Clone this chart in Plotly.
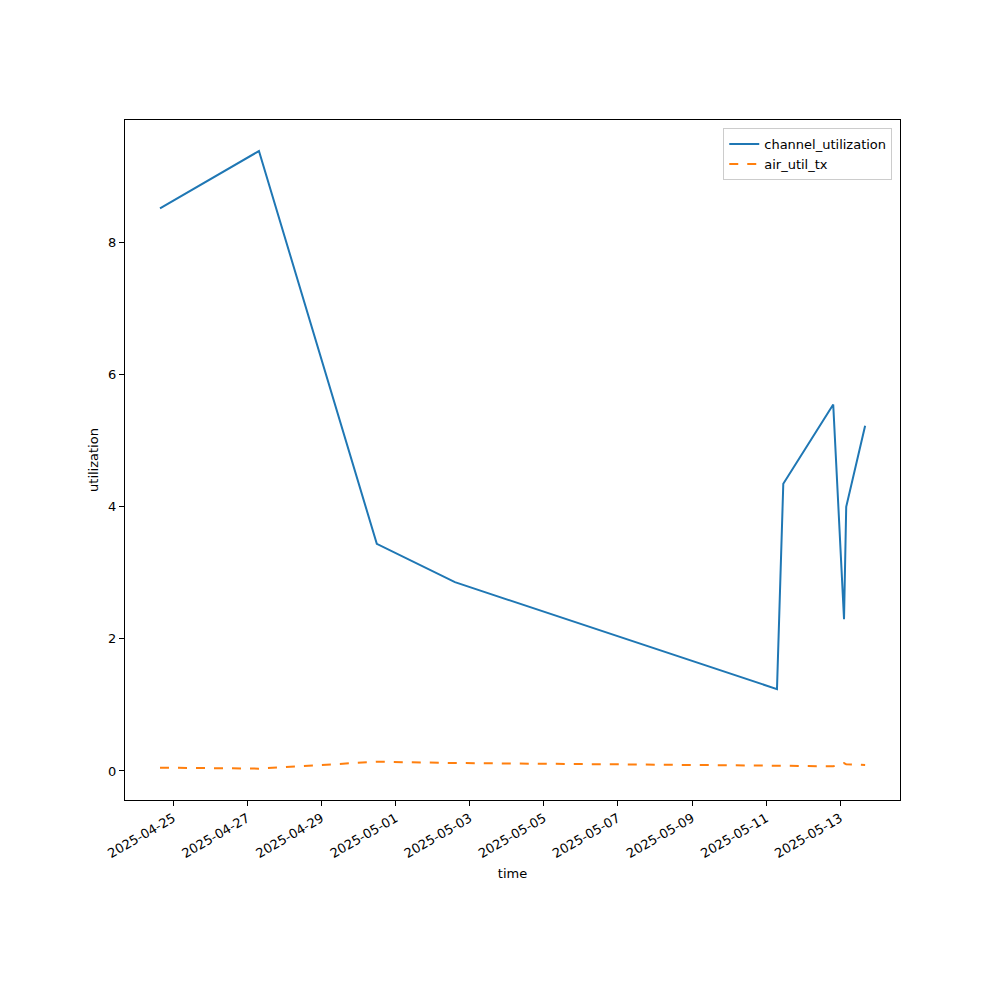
import plotly.graph_objects as go

times = ["2025-04-24 15:25", "2025-04-27 07:30", "2025-04-30 11:50", "2025-05-02 14:25",
         "2025-05-11 07:00", "2025-05-11 11:05", "2025-05-12 19:25", "2025-05-13 02:25",
         "2025-05-13 03:50", "2025-05-13 16:05"]
channel_utilization = [8.52, 9.39, 3.44, 2.86, 1.24, 4.35, 5.55, 2.30, 4.00, 5.23]
air_util_tx = [0.05, 0.035, 0.14, 0.12, 0.08, 0.08, 0.07, 0.12, 0.10, 0.09]
tick_dates = ["2025-04-25", "2025-04-27", "2025-04-29", "2025-05-01", "2025-05-03",
              "2025-05-05", "2025-05-07", "2025-05-09", "2025-05-11", "2025-05-13"]

fig = go.Figure()
fig.add_trace(go.Scatter(x=times, y=channel_utilization, mode="lines", name="channel_utilization",
                         line=dict(color="#1f77b4", width=2)))
fig.add_trace(go.Scatter(x=times, y=air_util_tx, mode="lines", name="air_util_tx",
                         line=dict(color="#ff7f0e", width=2, dash="dash")))

axis_common = dict(showline=True, linecolor="black", linewidth=1, mirror=True,
                   ticks="outside", ticklen=5, tickcolor="black", showgrid=False,
                   zeroline=False, tickfont=dict(size=13, color="black"))

fig.update_layout(
    width=1000, height=1000,
    paper_bgcolor="white", plot_bgcolor="white",
    font=dict(family="DejaVu Sans", size=13, color="black"),
    margin=dict(l=117, r=108, t=112, b=208),
    xaxis=dict(range=["2025-04-23 16:45", "2025-05-14 14:40"], tickvals=tick_dates,
               ticktext=tick_dates, tickangle=-30,
               title=dict(text="time", font=dict(size=13), standoff=8), **axis_common),
    yaxis=dict(range=[-0.44, 9.86], tickvals=[0, 2, 4, 6, 8],
               title=dict(text="utilization", font=dict(size=13), standoff=6), **axis_common),
    legend=dict(x=0.99, y=0.988, xanchor="right", yanchor="top",
                bordercolor="#cccccc", borderwidth=1, bgcolor="rgba(255,255,255,0.8)",
                font=dict(size=13)),
    showlegend=True,
)

fig.write_html("out.html")
